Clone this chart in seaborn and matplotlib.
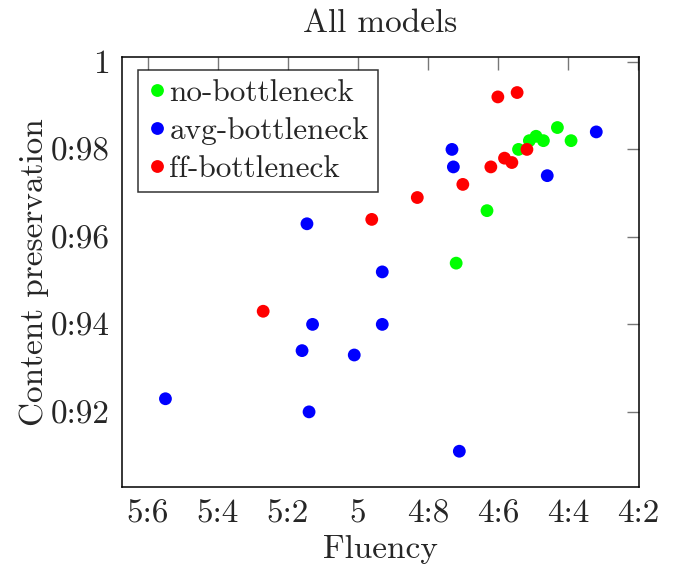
import matplotlib
matplotlib.use('Agg')
import matplotlib.pyplot as plt
import pandas as pd
import seaborn as sns

no_x = [4.542, 4.511, 4.492, 4.471, 4.431, 4.392, 4.632, 4.720]
no_y = [0.980, 0.982, 0.983, 0.982, 0.985, 0.982, 0.966, 0.954]
avg_x = [4.320, 4.732, 4.728, 4.460, 5.146, 4.931, 5.130, 4.931, 5.160, 5.011, 5.550, 5.140, 4.711]
avg_y = [0.984, 0.980, 0.976, 0.974, 0.963, 0.952, 0.940, 0.940, 0.934, 0.933, 0.923, 0.920, 0.911]
ff_x = [4.601, 4.546, 4.518, 4.582, 4.561, 4.621, 4.701, 4.831, 4.961, 5.271]
ff_y = [0.992, 0.993, 0.980, 0.978, 0.977, 0.976, 0.972, 0.969, 0.964, 0.943]

models = ['no-bottleneck', 'avg-bottleneck', 'ff-bottleneck']
colors = ['#00ff00', '#0000ff', '#ff0000']

x_ticks = [5.6, 5.4, 5.2, 5.0, 4.8, 4.6, 4.4, 4.2]
x_labels = ['5:6', '5:4', '5:2', '5', '4:8', '4:6', '4:4', '4:2']
y_ticks = [0.92, 0.94, 0.96, 0.98, 1.0]
y_labels = ['0:92', '0:94', '0:96', '0:98', '1']

df = pd.DataFrame({
    'Fluency': no_x + avg_x + ff_x,
    'Content preservation': no_y + avg_y + ff_y,
    'model': [models[0]] * len(no_x) + [models[1]] * len(avg_x) + [models[2]] * len(ff_x),
})

sns.set_style('white')
plt.rcParams['font.family'] = ['cmr10', 'DejaVu Serif']
plt.rcParams['axes.unicode_minus'] = False
fs = 24

fig = plt.figure(figsize=(6.73, 5.69), dpi=100)
ax = fig.add_axes([0.1813, 0.1447, 0.7682, 0.7557])

sns.scatterplot(data=df, x='Fluency', y='Content preservation', hue='model',
                hue_order=models, palette=colors, s=85, linewidth=0, ax=ax)

ax.set_xlim(5.674, 4.198)
ax.set_ylim(0.9029, 1.0012)
ax.set_xticks(x_ticks)
ax.set_xticklabels(x_labels)
ax.set_yticks(y_ticks)
ax.set_yticklabels(y_labels)
ax.tick_params(direction='in', length=9, width=1, color='#777777', labelsize=fs,
               top=True, right=True, pad=9)
for sp in ax.spines.values():
    sp.set_color('black')
    sp.set_linewidth(1.1)

ax.set_xlabel('Fluency', fontsize=fs, labelpad=5)
ax.set_ylabel('Content preservation', fontsize=fs, labelpad=1)
ax.set_title('All models', fontsize=fs, pad=18)

leg = ax.legend(loc='upper left', bbox_to_anchor=(0.031, 0.970), borderaxespad=0,
                fontsize=22.5, frameon=True, fancybox=False, edgecolor='black',
                handletextpad=0.1, borderpad=0.3, labelspacing=0.32,
                handlelength=0.6, markerscale=1.0)
leg.get_frame().set_linewidth(1.1)

fig.savefig('out.png', dpi=100)
